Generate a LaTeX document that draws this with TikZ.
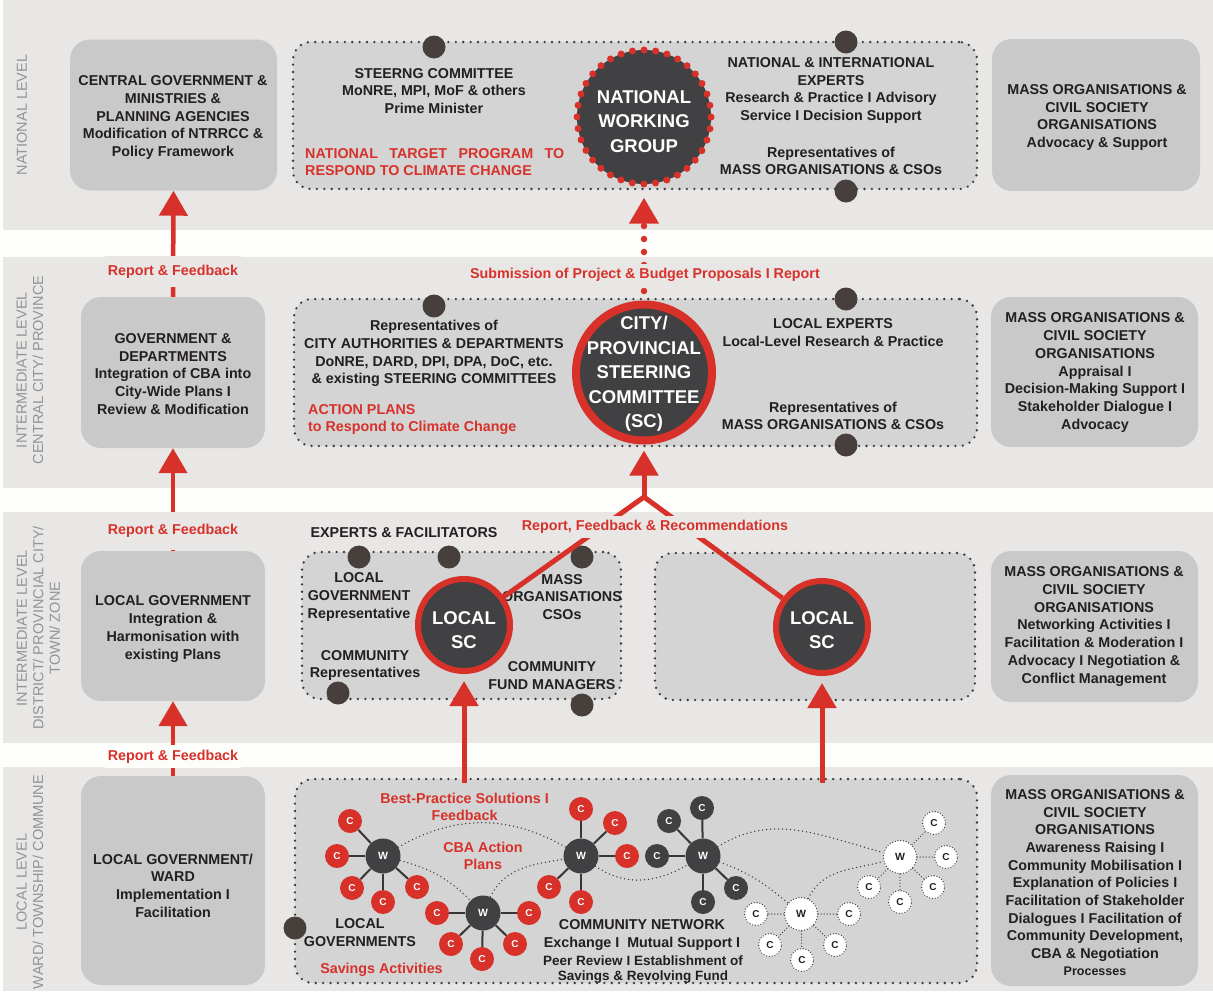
\documentclass[tikz,border=0pt]{standalone}
\usepackage{fontspec}
\setmainfont{Liberation Sans}
\usetikzlibrary{arrows.meta}
\definecolor{bandbg}{HTML}{E8E7E6}
\definecolor{boxgray}{HTML}{C9C9C9}
\definecolor{dotbox}{HTML}{D4D4D4}
\definecolor{redc}{HTML}{D7312A}
\definecolor{darkc}{HTML}{414042}
\definecolor{dotc}{HTML}{463F3C}
\definecolor{txtc}{HTML}{231F20}
\definecolor{sidec}{HTML}{939393}
\definecolor{gapw}{HTML}{FDFDFB}
\definecolor{dotline}{HTML}{3A3A3A}
\begin{document}
\begin{tikzpicture}[x=1pt,y=1pt,
  gbox/.style={rectangle, fill=boxgray, rounded corners=20pt, inner sep=0pt},
  dbox/.style={rectangle, fill=dotbox, draw=dotline, line width=2.6pt, dash pattern=on 0pt off 7.4pt, line cap=round, rounded corners=18pt, inner sep=0pt},
  bdot/.style={circle, fill=dotc, minimum size=23pt, inner sep=0pt},
  txt/.style={font=\fontsize{14.3}{17.7}\selectfont\bfseries, text=txtc, align=center, inner sep=0pt},
  rtxt/.style={txt, text=redc},
  sidelab/.style={font=\fontsize{14.5}{16.5}\selectfont, text=sidec, align=center, rotate=90, inner sep=0pt},
  bigtxt/.style={font=\fontsize{18.5}{24.5}\selectfont\bfseries, text=white, align=center, inner sep=0pt},
  redline/.style={draw=redc, line width=4.5pt},
  uparrow/.style={redline, -{Triangle[width=28pt,length=25pt]}},
  lab/.style={font=\fontsize{14.3}{17}\selectfont\bfseries, text=redc, fill=bandbg, inner xsep=3pt},
  wnode/.style={circle, fill=darkc, minimum size=35pt, inner sep=0pt, text=white, font=\fontsize{10.5}{10}\selectfont\bfseries},
  credn/.style={circle, fill=redc, minimum size=24pt, inner sep=0pt, text=white, font=\fontsize{10}{10}\selectfont\bfseries},
  cdarkn/.style={credn, fill=darkc},
  wwhite/.style={wnode, fill=white, text=txtc, draw=dotline, line width=1.3pt, dash pattern=on 0pt off 2.8pt, line cap=round, minimum size=33pt},
  cwhite/.style={credn, fill=white, text=txtc, draw=dotline, line width=1.3pt, dash pattern=on 0pt off 2.8pt, line cap=round, minimum size=23pt},
  link/.style={draw=txtc!90, line width=2pt},
  dlink/.style={draw=dotline, line width=1.3pt, dash pattern=on 0pt off 3pt, line cap=round},
  curve/.style={draw=dotline, line width=1.5pt, dash pattern=on 0pt off 4pt, line cap=round}
]
\useasboundingbox (0,0) rectangle (1213,-991);
\fill[gapw] (0,0) rectangle (1213,-991);
\fill[bandbg] (3,0) rectangle (1213,-230);
\fill[bandbg] (3,-257) rectangle (1213,-488);
\fill[bandbg] (3,-512) rectangle (1213,-743);
\fill[bandbg] (3,-767) rectangle (1213,-991);

% side labels
\node[sidelab] (sl1) at (22,-115) {NATIONAL LEVEL};
\node[sidelab] (sl2) at (30,-370) {INTERMEDIATE LEVEL\\CENTRAL CITY/ PROVINCE};
\node[sidelab] (sl3) at (38.5,-628) {INTERMEDIATE LEVEL\\DISTRICT/ PROVINCIAL CITY/\\TOWN/ ZONE};
\node[sidelab] (sl4) at (30,-882) {LOCAL LEVEL\\WARD/ TOWNSHIP/ COMMUNE};

% left boxes
\node[gbox, minimum width=207pt, minimum height=151pt] (lb1) at (173.5,-115) {};
\node[gbox, minimum width=184pt, minimum height=151pt] (lb2) at (173,-372.5) {};
\node[gbox, minimum width=184pt, minimum height=150pt] (lb3) at (173,-626) {};
\node[gbox, minimum width=184pt, minimum height=209pt] (lb4) at (173,-880.5) {};
% right boxes
\node[gbox, minimum width=208pt, minimum height=152pt] (rb1) at (1096,-115) {};
\node[gbox, minimum width=207pt, minimum height=150pt] (rb2) at (1094.5,-372) {};
\node[gbox, minimum width=207pt, minimum height=151pt] (rb3) at (1094.5,-626.5) {};
\node[gbox, minimum width=207pt, minimum height=211pt] (rb4) at (1094.5,-880.5) {};
% dotted boxes
\node[dbox, minimum width=684pt, minimum height=147pt] (db1) at (635,-115.5) {};
\node[dbox, minimum width=683pt, minimum height=147pt] (db2) at (635.5,-372.5) {};
\node[dbox, minimum width=319pt, minimum height=147pt] (db3a) at (461.5,-625.5) {};
\node[dbox, minimum width=320pt, minimum height=147pt] (db3b) at (815,-626.5) {};
\node[dbox, minimum width=682pt, minimum height=204pt] (db4) at (636,-881) {};

% dark dots
\foreach \x/\y [count=\i] in {434/-47, 846/-42, 846/-191, 434/-306, 846/-299, 846/-445, 359/-557, 449/-557, 582/-557, 338/-693, 582/-705, 295/-928}
  {\node[bdot] (dd\i) at (\x,\y) {};}

% left box texts
\node[txt] (lb1t) at (173,-117.5) {CENTRAL GOVERNMENT \&\\MINISTRIES \&\\PLANNING AGENCIES\\Modification of NTRRCC \&\\Policy Framework};
\node[txt] (lb2t) at (173,-374) {GOVERNMENT \&\\DEPARTMENTS\\Integration of CBA into\\City-Wide Plans I\\Review \& Modification};
\node[txt] (lb3t) at (173,-629) {LOCAL GOVERNMENT\\Integration \&\\Harmonisation with\\existing Plans};
\node[txt] (lb4t) at (173,-885.5) {LOCAL GOVERNMENT/\\WARD\\Implementation I\\Facilitation};
% right box texts
\node[txt] (rb1t) at (1097,-117.5) {MASS ORGANISATIONS \&\\CIVIL SOCIETY\\ORGANISATIONS\\Advocacy \& Support};
\node[txt] (rb2t) at (1095,-372.5) {MASS ORGANISATIONS \&\\CIVIL SOCIETY\\ORGANISATIONS\\Appraisal I\\Decision-Making Support I\\Stakeholder Dialogue I\\Advocacy};
\node[txt] (rb3t) at (1094,-626.5) {MASS ORGANISATIONS \&\\CIVIL SOCIETY\\ORGANISATIONS\\Networking Activities I\\Facilitation \& Moderation I\\Advocacy I Negotiation \&\\Conflict Management};
\node[txt] (rb4t) at (1095,-875.5) {MASS ORGANISATIONS \&\\CIVIL SOCIETY\\ORGANISATIONS\\Awareness Raising I\\Community Mobilisation I\\Explanation of Policies I\\Facilitation of Stakeholder\\Dialogues I Facilitation of\\Community Development,\\CBA \& Negotiation};
\node[txt, font=\fontsize{12.5}{14}\selectfont\bfseries] (rb4p) at (1095,-971) {Processes};

% national level
\node[txt] (steer) at (434,-91) {STEERNG COMMITTEE\\MoNRE, MPI, MoF \& others\\Prime Minister};
\node[rtxt, anchor=west, align=left] (ntp) at (305,-162) {\makebox[259pt][s]{NATIONAL TARGET PROGRAM TO}\\RESPOND TO CLIMATE CHANGE};
\node[txt] (nie) at (831,-90.5) {NATIONAL \& INTERNATIONAL\\EXPERTS\\Research \& Practice I Advisory\\Service I Decision Support};
\node[txt] (mo1) at (831,-161) {Representatives of\\MASS ORGANISATIONS \& CSOs};
\node[circle, fill=darkc, draw=redc, line width=7pt, dash pattern=on 0pt off 11.69pt, line cap=round, minimum size=134pt, inner sep=0pt] (nwg) at (644,-117) {};
\node[bigtxt] (nwgt) at (644,-121.5) {NATIONAL\\WORKING\\GROUP};

% intermediate level
\node[txt] (cad) at (434,-353.5) {Representatives of\\CITY AUTHORITIES \& DEPARTMENTS\\DoNRE, DARD, DPI, DPA, DoC, etc.\\\& existing STEERING COMMITTEES};
\node[rtxt, anchor=west, align=left] (ap) at (308,-419.5) {ACTION PLANS\\to Respond to Climate Change};
\node[txt] (lex) at (833,-332.5) {LOCAL EXPERTS\\Local-Level Research \& Practice};
\node[txt] (mo2) at (833,-416) {Representatives of\\MASS ORGANISATIONS \& CSOs};
\node[circle, fill=darkc, draw=redc, line width=8pt, minimum size=136pt, inner sep=0pt] (citysc) at (644,-372.5) {};
\node[bigtxt] (cityt) at (644,-374) {CITY/\\PROVINCIAL\\STEERING\\COMMITTEE\\(SC)};

% district level
\node[txt] (ef) at (404,-533) {EXPERTS \& FACILITATORS};
\node[txt] (lgr) at (359,-597) {LOCAL\\GOVERNMENT\\Representative};
\node[txt] (cr) at (365,-665.5) {COMMUNITY\\Representatives};
\node[txt] (mocso) at (562,-597) {MASS\\ORGANISATIONS\\CSOs};
\node[txt] (cfm) at (552,-675.5) {COMMUNITY\\FUND MANAGERS};
\node[circle, fill=darkc, draw=redc, line width=6pt, minimum size=92pt, inner sep=0pt] (sc1) at (464,-625) {};
\node[bigtxt] (sc1t) at (464,-630) {LOCAL\\SC};
\node[circle, fill=darkc, draw=redc, line width=6pt, minimum size=92pt, inner sep=0pt] (sc2) at (822,-627) {};
\node[bigtxt] (sc2t) at (822,-630) {LOCAL\\SC};

% local network
\node[wnode] (w1) at (383,-856) {W};
\node[wnode] (w2) at (483,-913) {W};
\node[wnode] (w3) at (581,-856) {W};
\node[wnode] (w4) at (703,-856) {W};
\node[wwhite] (w5) at (801,-914) {W};
\node[wwhite] (w6) at (900,-857) {W};
\foreach \x/\y [count=\i] in {350/-821, 337/-856, 352/-888, 383/-902, 417/-887}
  {\node[credn] (ca\i) at (\x,\y) {C}; \draw[link] (w1) -- (ca\i);}
\foreach \x/\y [count=\i] in {437/-913, 451/-944, 482/-959, 515/-944, 529/-913}
  {\node[credn] (cb\i) at (\x,\y) {C}; \draw[link] (w2) -- (cb\i);}
\foreach \x/\y [count=\i] in {581/-809, 615/-823, 627/-856, 549/-887, 581/-902}
  {\node[credn] (cc\i) at (\x,\y) {C}; \draw[link] (w3) -- (cc\i);}
\foreach \x/\y [count=\i] in {702/-808, 669/-821, 657/-856, 703/-902, 736/-888}
  {\node[cdarkn] (cd\i) at (\x,\y) {C}; \draw[link] (w4) -- (cd\i);}
\foreach \x/\y [count=\i] in {756/-914, 849/-914, 770/-945, 802/-960, 835/-945}
  {\node[cwhite] (ce\i) at (\x,\y) {C}; \draw[dlink] (w5) -- (ce\i);}
\foreach \x/\y [count=\i] in {934/-823, 946/-857, 933/-887, 900/-902, 869/-887}
  {\node[cwhite] (cf\i) at (\x,\y) {C}; \draw[dlink] (w6) -- (cf\i);}
\draw[curve] (w1) to[out=30,in=150] (w3);
\draw[curve] (w1) to[out=-15,in=135] (w2);
\draw[curve] (w2) to[out=65,in=-170] (w3);
\draw[curve] (w3) to[out=-35,in=-150] (w4);
\draw[curve] (w4) to[out=32,in=165] (w6);
\draw[curve] (w4) to[out=-20,in=140] (w5);
\draw[curve] (w5) to[out=65,in=-165] (w6);

\node[rtxt] (bps) at (464.5,-807) {Best-Practice Solutions I\\Feedback};
\node[rtxt] (cba) at (483,-856) {CBA Action\\Plans};
\node[txt] (lgs) at (360,-932.5) {LOCAL\\GOVERNMENTS};
\node[rtxt] (sav) at (381.5,-970) {Savings Activities};
\node[txt] (cn) at (642,-935) {COMMUNITY NETWORK\\Exchange I\ \ Mutual Support I};
\node[txt, font=\fontsize{13.5}{15}\selectfont\bfseries] (prf) at (643,-969.5) {Peer Review I Establishment of\\Savings \& Revolving Fund};

% arrows on the left
\draw[uparrow] (lb2.north) -- (lb1.south);
\draw[uparrow] (lb3.north) -- (lb2.south);
\draw[uparrow] (lb4.north) -- (lb3.south);
\node[lab, inner ysep=8.7pt] (rf1) at (173,-271.5) {Report \& Feedback};
\node[lab, inner ysep=12.7pt] (rf2) at (173,-531) {Report \& Feedback};
\node[lab, fill=gapw, inner ysep=4.7pt] (rf3) at (173,-756.5) {Report \& Feedback};

% dotted submission arrow
\draw[draw=redc, line width=6.5pt, dash pattern=on 0pt off 13pt, dash phase=3.5pt, line cap=round, -{Triangle[width=28pt,length=26pt]}, shorten >=10pt] (citysc) -- (nwg);
\node[lab, inner ysep=4pt] (sub) at (645,-275) {Submission of Project \& Budget Proposals I Report};

% branching arrow
\coordinate (J) at (644,-497);
\draw[redline, line width=5pt, line join=miter] (sc1) -- (J) -- (sc2);
\draw[uparrow, line width=5pt, shorten >=6pt] (J) -- (citysc);
\node[lab, inner ysep=4pt] (rfr) at (655,-527) {Report, Feedback \& Recommendations};

% arrows from local network
\coordinate (a1) at (464,-783);
\coordinate (a2) at (822,-783);
\draw[uparrow, line width=5pt, shorten >=7pt] (a1) -- (sc1);
\draw[uparrow, line width=5pt, shorten >=7pt] (a2) -- (sc2);
\end{tikzpicture}
\end{document}
